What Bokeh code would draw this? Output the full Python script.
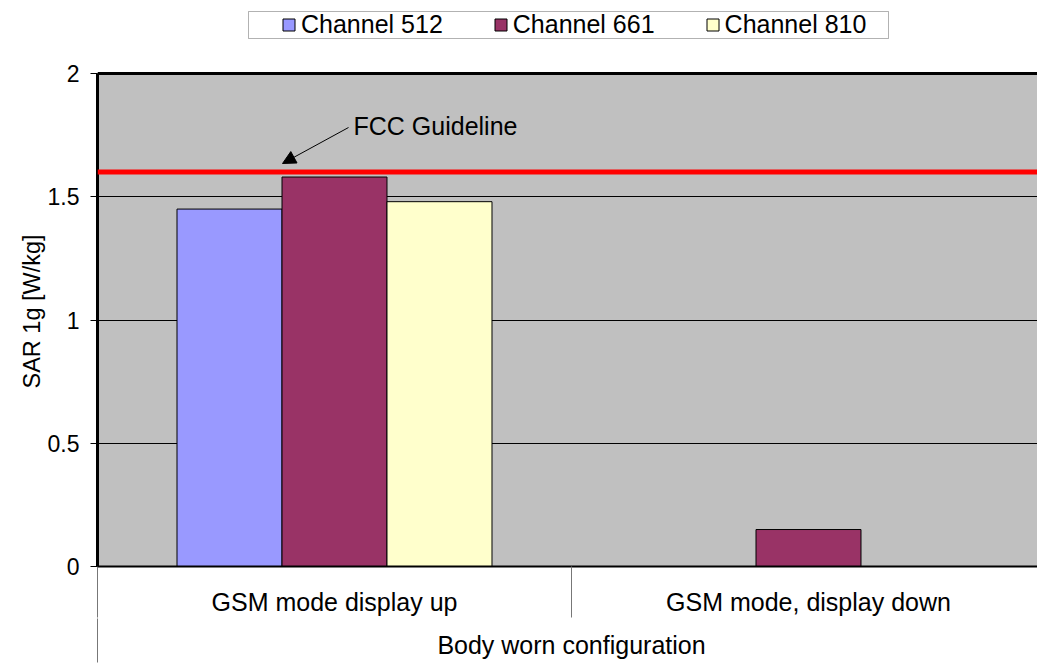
import math
from bokeh.plotting import figure
from bokeh.models import (ColumnDataSource, Range1d, LinearAxis, FixedTicker, Span, Title,
                          Arrow, NormalHead, Label, Legend, LegendItem, BoxAnnotation)
from bokeh.transform import dodge
from bokeh.embed import file_html
from bokeh.resources import INLINE

nan = float("nan")

# ---- data ----
categories = ["GSM mode display up", "GSM mode, display down"]
group_label = "Body worn configuration"
series_names = ["Channel 512", "Channel 661", "Channel 810"]
ch512 = [1.45, nan]
ch661 = [1.58, 0.15]
ch810 = [1.48, nan]
fcc_limit = 1.6
fcc_text = "FCC Guideline"
y_ticks = [0.0, 0.5, 1.0, 1.5, 2.0]
y_tick_labels = ["0", "0.5", "1", "1.5", "2"]
y_title = "SAR 1g [W/kg]"

colors = ["#9999FF", "#993366", "#FFFFCC"]
FONT = "Liberation Sans"

# layout helpers (pixel geometry of the plot area)
FL, FB, PX_X, PX_Y = 97, 566, 474.0, 246.5
def px_x(px): return (px - FL) / PX_X
def px_y(py): return (FB - py) / PX_Y

y_max = y_ticks[-1]
y_view_top = px_y(0)   # leave room above the plot area for the legend

xs = [i + 0.5 for i in range(len(categories))]
src = ColumnDataSource(dict(x=xs, c512=ch512, c661=ch661, c810=ch810))

p = figure(width=1037, height=663, x_range=Range1d(0, px_x(1037)), y_range=Range1d(0, y_view_top),
           x_axis_type=None, output_backend="svg", toolbar_location=None,
           min_border_left=97, min_border_top=0, min_border_right=0, min_border_bottom=97)
p.background_fill_color = "white"
p.border_fill_color = "white"
p.outline_line_color = None

# grey plot area (drawn beneath the grid)
plot_area = BoxAnnotation(bottom=0, top=y_max, left=px_x(80), right=px_x(1060),
                          fill_color="#C0C0C0", fill_alpha=1, line_color=None, level="underlay")
p.center = [plot_area] + list(p.center)

# grid
p.ygrid.ticker = FixedTicker(ticks=y_ticks, minor_ticks=[])
p.ygrid.grid_line_color = "black"
p.ygrid.grid_line_width = 1

# bars
bw = 0.2215
cols = ["c512", "c661", "c810"]
offs = [-bw, 0.0, bw]
renderers = []
for col, off, colr in zip(cols, offs, colors):
    r = p.vbar(x=dodge("x", off, range=p.x_range), top=col, bottom=0, width=bw,
               source=src, fill_color=colr, line_color="black", line_width=1)
    renderers.append(r)

# top border of plot area
p.add_layout(Span(location=y_max, dimension="width", line_color="black", line_width=3))

# FCC line
p.add_layout(Span(location=fcc_limit, dimension="width", line_color="#FF0000", line_width=5))
p.add_layout(Arrow(end=NormalHead(size=13, fill_color="black", line_color="black"),
                   x_start=px_x(348), y_start=px_y(127), x_end=px_x(282), y_end=px_y(163),
                   line_color="black", line_width=1))
p.add_layout(Label(x=px_x(353), y=px_y(125), text=fcc_text, text_font=FONT,
                   text_font_size="25px", text_color="black", text_baseline="alphabetic"))

# y axis
ya = p.yaxis[0]
ya.bounds = (0, y_max)
ya.ticker = FixedTicker(ticks=y_ticks, minor_ticks=[])
ya.major_label_overrides = {t: l for t, l in zip(y_ticks, y_tick_labels)}
ya.axis_line_width = 3
ya.axis_line_color = "black"
ya.major_tick_out = 7
ya.major_tick_in = 0
ya.major_tick_line_color = "black"
ya.major_label_standoff = 11
ya.major_label_text_font = FONT
ya.major_label_text_font_size = "23px"
ya.major_label_text_color = "black"

p.add_layout(Title(text=y_title, align="left", offset=178, standoff=0,
                   text_font=FONT, text_font_size="23.5px", text_font_style="normal",
                   text_color="black"), "left")

# category axis
ax1 = LinearAxis(ticker=FixedTicker(ticks=xs, minor_ticks=[0.0, 1.0, 2.0]),
                 major_label_overrides={x: c for x, c in zip(xs, categories)},
                 axis_line_width=2, axis_line_color="black",
                 major_tick_out=0, major_tick_in=0,
                 minor_tick_out=51, minor_tick_in=0, minor_tick_line_color="#777777",
                 major_label_standoff=-30, major_label_text_font=FONT,
                 major_label_text_font_size="25px", major_label_text_color="black")
p.add_layout(ax1, "below")

# group axis
ax2 = LinearAxis(ticker=FixedTicker(ticks=[1.0], minor_ticks=[0.0]),
                 major_label_overrides={1.0: group_label},
                 axis_line_color=None,
                 major_tick_out=0, major_tick_in=0,
                 minor_tick_out=44, minor_tick_in=0, minor_tick_line_color="#777777",
                 major_label_standoff=-32, major_label_text_font=FONT,
                 major_label_text_font_size="25px", major_label_text_color="black")
p.add_layout(ax2, "below")

# legend box
p.add_layout(BoxAnnotation(left=px_x(248), right=px_x(888), top=px_y(11), bottom=px_y(38),
                           fill_color="white", fill_alpha=1, line_color="black", line_width=1))

legend = Legend(items=[LegendItem(label=n, renderers=[r]) for n, r in zip(series_names, renderers)],
                orientation="horizontal", location=(184, 527),
                label_text_font=FONT, label_text_font_size="25px", label_text_color="black",
                glyph_width=15, glyph_height=15, label_standoff=5, spacing=50,
                padding=0, margin=0, border_line_color=None, background_fill_alpha=0)
p.add_layout(legend, "center")

open("out.html", "w").write(file_html(p, INLINE))
